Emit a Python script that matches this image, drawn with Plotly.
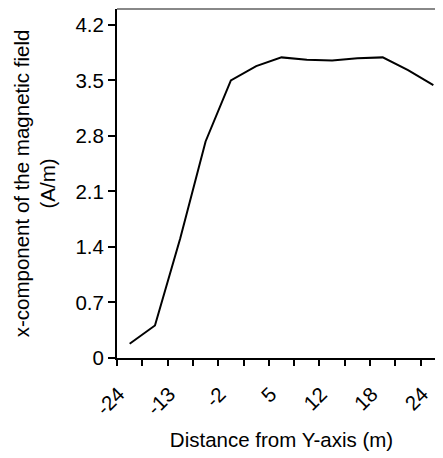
import plotly.graph_objects as go

# Data
distance = ["-24", "-18.5", "-13", "-7.5", "-2", "1.5", "5", "8.5", "12", "15", "18", "21", "24"]
field_x = [0.18, 0.41, 1.51, 2.73, 3.50, 3.68, 3.79, 3.76, 3.75, 3.78, 3.79, 3.63, 3.44]
x_tick_text = ["-24", "", "-13", "", "-2", "", "5", "", "12", "", "18", "", "24"]
y_ticks = [0, 0.7, 1.4, 2.1, 2.8, 3.5, 4.2]
y_tick_text = ["0", "0.7", "1.4", "2.1", "2.8", "3.5", "4.2"]

FONT = "Arial, 'Liberation Sans', sans-serif"
FS = 20.5

fig = go.Figure()
fig.add_trace(go.Scatter(
    x=distance, y=field_x, mode="lines",
    line=dict(color="black", width=2),
    showlegend=False, hoverinfo="skip",
))

fig.update_layout(
    width=443, height=458,
    margin=dict(l=109, r=5, t=1, b=108, autoexpand=False),
    paper_bgcolor="white", plot_bgcolor="white",
    font=dict(family=FONT, size=FS, color="black"),
    xaxis=dict(
        type="category",
        range=[-0.5, 12.5],
        automargin=False,
        tickson="boundaries",
        tickmode="array", tickvals=distance, ticktext=x_tick_text,
        tickangle=-45,
        ticklabelstandoff=14, ticklabelshift=-11,
        ticks="outside", ticklen=6, tickwidth=2, tickcolor="black",
        showline=True, linecolor="black", linewidth=2,
        showgrid=False, zeroline=False,
        tickfont=dict(family=FONT, size=FS, color="black"),
        title=dict(text="Distance from Y-axis (m)", font=dict(family=FONT, size=FS, color="black"), standoff=14),
    ),
    yaxis=dict(
        range=[0, 4.4],
        automargin=False,
        tickmode="array", tickvals=y_ticks, ticktext=y_tick_text,
        ticks="outside", ticklen=7, tickwidth=2, tickcolor="black",
        showline=True, linecolor="black", linewidth=2,
        showgrid=False, zeroline=False,
        tickfont=dict(family=FONT, size=FS, color="black"),
        title=dict(text="x-component of the magnetic field<br>(A/m)", font=dict(family=FONT, size=FS, color="black"), standoff=14),
    ),
    shapes=[dict(type="line", xref="paper", yref="paper", x0=0, x1=1, y0=1, y1=1,
                 line=dict(color="#888888", width=2))],
)

fig.write_html("out.html")
